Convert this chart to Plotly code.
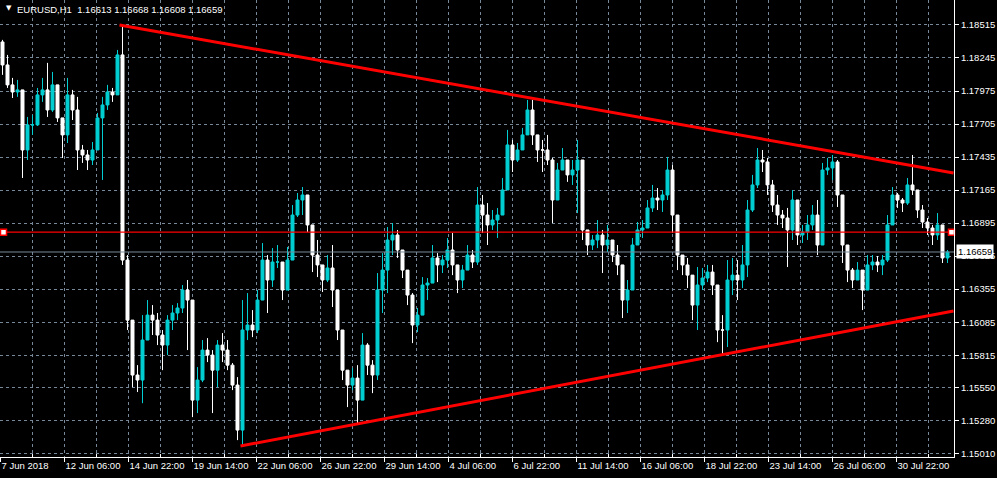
import plotly.graph_objects as go

# ---------------- data (EURUSD H1, one entry per 5 hourly bars) ----------------
first_open = 1.18376
close = [1.18188, 1.18025, 1.17967, 1.17984, 1.17493, 1.17698, 1.17698, 1.17943, 1.17984, 1.17820,
         1.18025, 1.17755, 1.17616, 1.17943, 1.17820, 1.17493, 1.17452, 1.17411, 1.17493, 1.17755,
         1.17861, 1.17967, 1.17943, 1.18270, 1.16593, 1.16102, 1.15653, 1.15612, 1.15939, 1.16143,
         1.16102, 1.15980, 1.15898, 1.16102, 1.16160, 1.16201, 1.16348, 1.16266, 1.15448, 1.15612,
         1.15857, 1.15816, 1.15693, 1.15898, 1.15857, 1.15734, 1.15571, 1.15203, 1.16021, 1.16062,
         1.16021, 1.16266, 1.16593, 1.16430, 1.16577, 1.16577, 1.16348, 1.16593, 1.16961, 1.17084,
         1.17125, 1.16880, 1.16634, 1.16553, 1.16430, 1.16528, 1.16348, 1.16021, 1.15693, 1.15571,
         1.15628, 1.15448, 1.15898, 1.15734, 1.15653, 1.16348, 1.16511, 1.16757, 1.16798, 1.16675,
         1.16511, 1.16307, 1.16062, 1.16143, 1.16389, 1.16405, 1.16610, 1.16553, 1.16593, 1.16675,
         1.16553, 1.16430, 1.16511, 1.16634, 1.16577, 1.17043, 1.16961, 1.16880, 1.16920, 1.16961,
         1.17166, 1.17534, 1.17411, 1.17493, 1.17616, 1.17820, 1.17616, 1.17493, 1.17493, 1.17411,
         1.17084, 1.17329, 1.17411, 1.17289, 1.17329, 1.17411, 1.16839, 1.16716, 1.16757, 1.16798,
         1.16716, 1.16757, 1.16634, 1.16553, 1.16266, 1.16348, 1.16716, 1.16839, 1.16855, 1.17019,
         1.17100, 1.17084, 1.17125, 1.17329, 1.16961, 1.16634, 1.16553, 1.16470, 1.16225, 1.16389,
         1.16446, 1.16495, 1.16389, 1.16021, 1.16021, 1.16430, 1.16470, 1.16430, 1.16553, 1.17002,
         1.17207, 1.17411, 1.17395, 1.17207, 1.17043, 1.16961, 1.16937, 1.16839, 1.17084, 1.16798,
         1.16822, 1.16880, 1.16961, 1.16716, 1.17329, 1.17346, 1.17395, 1.17125, 1.16716, 1.16511,
         1.16430, 1.16511, 1.16348, 1.16553, 1.16577, 1.16553, 1.16593, 1.16880, 1.17125, 1.17084,
         1.17059, 1.17207, 1.17166, 1.17002, 1.16904, 1.16855, 1.16798, 1.16880, 1.16610, 1.16659]
high = [1.18393, 1.18270, 1.18082, 1.18066, 1.17967, 1.17763, 1.17779, 1.18000, 1.18082, 1.18205,
        1.18131, 1.17902, 1.17755, 1.18082, 1.17984, 1.17927, 1.17534, 1.17493, 1.17558, 1.17796,
        1.17927, 1.18025, 1.18000, 1.18311, 1.18516, 1.16634, 1.16102, 1.15734, 1.16143, 1.16266,
        1.16225, 1.16160, 1.16021, 1.16143, 1.16225, 1.16241, 1.16389, 1.16430, 1.16266, 1.15718,
        1.15939, 1.15955, 1.15857, 1.15939, 1.15996, 1.15939, 1.15751, 1.15636, 1.16266, 1.16323,
        1.16184, 1.16348, 1.16732, 1.16634, 1.16691, 1.16716, 1.16577, 1.16700, 1.17043, 1.17141,
        1.17190, 1.17084, 1.16855, 1.16757, 1.16553, 1.16634, 1.16716, 1.16348, 1.15980, 1.15693,
        1.15710, 1.15734, 1.15996, 1.15914, 1.15775, 1.16487, 1.16650, 1.16863, 1.16896, 1.16839,
        1.16675, 1.16511, 1.16323, 1.16201, 1.16454, 1.16446, 1.16716, 1.16650, 1.16634, 1.16773,
        1.16814, 1.16511, 1.16553, 1.16716, 1.16675, 1.17190, 1.17125, 1.17059, 1.17002, 1.17019,
        1.17264, 1.17657, 1.17575, 1.17550, 1.17673, 1.17902, 1.17902, 1.17591, 1.17575, 1.17616,
        1.17428, 1.17387, 1.17509, 1.17395, 1.17411, 1.17575, 1.17329, 1.16822, 1.16798, 1.16920,
        1.16839, 1.16880, 1.16757, 1.16716, 1.16511, 1.16430, 1.16773, 1.16904, 1.16920, 1.17084,
        1.17207, 1.17182, 1.17166, 1.17436, 1.17370, 1.16961, 1.16634, 1.16610, 1.16470, 1.16536,
        1.16528, 1.16553, 1.16553, 1.16389, 1.16143, 1.16593, 1.16610, 1.16593, 1.16716, 1.17084,
        1.17289, 1.17509, 1.17493, 1.17428, 1.17248, 1.17125, 1.17002, 1.17019, 1.17166, 1.17002,
        1.16880, 1.16961, 1.17043, 1.17084, 1.17387, 1.17428, 1.17452, 1.17411, 1.17084, 1.16716,
        1.16528, 1.16577, 1.16511, 1.16634, 1.16634, 1.16626, 1.16634, 1.16961, 1.17190, 1.17141,
        1.17100, 1.17264, 1.17452, 1.17150, 1.17043, 1.16937, 1.16880, 1.16977, 1.16880, 1.16675]
low = [1.18107, 1.18000, 1.17918, 1.17927, 1.17264, 1.17411, 1.17616, 1.17689, 1.17886, 1.17763,
       1.17804, 1.17722, 1.17428, 1.17550, 1.17738, 1.17329, 1.17387, 1.17329, 1.17370, 1.17493,
       1.17248, 1.17820, 1.17886, 1.17984, 1.16553, 1.16021, 1.15554, 1.15514, 1.15423, 1.15939,
       1.15980, 1.15898, 1.15693, 1.15816, 1.16021, 1.16102, 1.16160, 1.15857, 1.15309, 1.15342,
       1.15595, 1.15759, 1.15342, 1.15554, 1.15759, 1.15693, 1.15530, 1.15121, 1.15072, 1.15939,
       1.15963, 1.15996, 1.16307, 1.16160, 1.16373, 1.16528, 1.16266, 1.16348, 1.16757, 1.16945,
       1.16961, 1.16822, 1.16495, 1.16454, 1.16332, 1.16413, 1.16209, 1.15939, 1.15612, 1.15391,
       1.15530, 1.15260, 1.15448, 1.15653, 1.15505, 1.15612, 1.16160, 1.16323, 1.16634, 1.16610,
       1.16446, 1.16225, 1.15914, 1.16004, 1.16184, 1.16266, 1.16413, 1.16413, 1.16487, 1.16528,
       1.16470, 1.16323, 1.16364, 1.16511, 1.16528, 1.16553, 1.16814, 1.16716, 1.16839, 1.16773,
       1.16961, 1.17166, 1.17313, 1.17395, 1.17493, 1.17616, 1.17534, 1.17395, 1.17313, 1.17370,
       1.16896, 1.17084, 1.17329, 1.17232, 1.17207, 1.16977, 1.16757, 1.16634, 1.16675, 1.16691,
       1.16487, 1.16659, 1.16577, 1.16470, 1.16119, 1.16160, 1.16348, 1.16716, 1.16773, 1.16880,
       1.16986, 1.17002, 1.16986, 1.17084, 1.16814, 1.16511, 1.16470, 1.16364, 1.16102, 1.16021,
       1.16348, 1.16413, 1.16307, 1.15922, 1.15816, 1.15882, 1.16307, 1.16266, 1.16364, 1.16454,
       1.16986, 1.17182, 1.17313, 1.17125, 1.16986, 1.16880, 1.16855, 1.16536, 1.16757, 1.16716,
       1.16732, 1.16757, 1.16839, 1.16634, 1.16757, 1.17289, 1.17248, 1.17027, 1.16569, 1.16413,
       1.16364, 1.16430, 1.16184, 1.16348, 1.16511, 1.16495, 1.16470, 1.16577, 1.16880, 1.17019,
       1.16986, 1.17043, 1.17125, 1.16937, 1.16855, 1.16798, 1.16716, 1.16757, 1.16569, 1.16569]
bars_per_candle = 5

time_labels = ["7 Jun 2018", "12 Jun 06:00", "14 Jun 22:00", "19 Jun 14:00", "22 Jun 06:00",
               "26 Jun 22:00", "29 Jun 14:00", "4 Jul 06:00", "6 Jul 22:00", "11 Jul 14:00",
               "16 Jul 06:00", "18 Jul 22:00", "23 Jul 14:00", "26 Jul 06:00", "30 Jul 22:00"]
bars_per_label = 64
price_ticks = [1.18515, 1.18245, 1.17975, 1.17705, 1.17435, 1.17165, 1.16895, 1.16625,
               1.16355, 1.16085, 1.15815, 1.15550, 1.15280, 1.15010]

# drawn objects (bar index, price)
upper_trend_bars = [119, 953]
upper_trend_prices = [1.18515, 1.17305]
lower_trend_bars = [240, 953]
lower_trend_prices = [1.15073, 1.16177]
hline_price = 1.16821
hline_anchor_bars = [3, 951]
bid_price = 1.16659
header_text = "EURUSD,H1  1.16613 1.16668 1.16608 1.16659"

# ---------------- figure ----------------
n = len(close)
opens = [first_open] + close[:-1]
xs = [bars_per_candle * k + bars_per_candle // 2 for k in range(n)]

CYAN = "#00CED1"
GRID = "#778899"
FONT = "Liberation Sans, Arial, sans-serif"

fig = go.Figure()
fig.add_trace(go.Candlestick(
    x=xs, open=opens, high=high, low=low, close=close,
    increasing=dict(line=dict(color=CYAN, width=1), fillcolor=CYAN),
    decreasing=dict(line=dict(color="#FFFFFF", width=1), fillcolor="#FFFFFF"),
    whiskerwidth=0, showlegend=False, hoverinfo="skip"))

# bid line
fig.add_trace(go.Scatter(x=[-1, 960], y=[bid_price, bid_price], mode="lines",
                         line=dict(color=GRID, width=1), showlegend=False, hoverinfo="skip"))
# horizontal level
fig.add_trace(go.Scatter(x=hline_anchor_bars, y=[hline_price] * 2, mode="lines+markers",
                         line=dict(color="#FF0000", width=1.2),
                         marker=dict(symbol="square", size=6, color="#FFFFFF",
                                     line=dict(color="#FF0000", width=1.5)),
                         showlegend=False, hoverinfo="skip", cliponaxis=False))
# trend lines
for bx, py in ((upper_trend_bars, upper_trend_prices), (lower_trend_bars, lower_trend_prices)):
    fig.add_trace(go.Scatter(x=bx, y=py, mode="lines", line=dict(color="#FF0000", width=3),
                             showlegend=False, hoverinfo="skip"))

tickvals = [bars_per_label * i for i in range(len(time_labels))]
minorvals = [bars_per_label * i + bars_per_label // 2 for i in range(len(time_labels))]

fig.update_layout(
    width=997, height=478, autosize=False,
    paper_bgcolor="#000000", plot_bgcolor="#000000",
    margin=dict(l=0, r=43, t=0, b=21),
    boxgap=0.15,
    font=dict(family=FONT, size=10, color="#FFFFFF"),
    xaxis=dict(range=[-0.5, 953.5], tickmode="array", tickvals=tickvals, ticktext=time_labels,
               ticklabelposition="outside right", ticks="outside", ticklen=4, tickcolor="#FFFFFF",
               showgrid=True, gridcolor=GRID, griddash="3px,3px", gridwidth=1,
               showline=True, linecolor="#FFFFFF", linewidth=1, zeroline=False,
               rangeslider=dict(visible=False), fixedrange=True,
               tickfont=dict(family=FONT, size=9.5, color="#FFFFFF"),
               minor=dict(tickmode="array", tickvals=minorvals, ticks="inside", ticklen=3,
                          tickcolor="#FFFFFF", showgrid=True, gridcolor=GRID, griddash="3px,3px")),
    yaxis=dict(range=[1.14983, 1.18719], side="right", tickmode="array", tickvals=price_ticks,
               ticktext=[f"{v:.5f}" for v in price_ticks], ticks="outside", ticklen=4,
               tickcolor="#FFFFFF", showgrid=True, gridcolor=GRID, griddash="3px,3px",
               showline=True, linecolor="#FFFFFF", linewidth=1, zeroline=False, fixedrange=True,
               tickfont=dict(family=FONT, size=9.5, color="#FFFFFF")),
)

fig.add_annotation(xref="paper", yref="y", x=1.0, y=bid_price, xanchor="left", yanchor="middle",
                   xshift=2, text=f"{bid_price:.5f}", showarrow=False, bgcolor="#FFFFFF",
                   font=dict(family=FONT, size=9.5, color="#000000"), borderpad=1)
fig.add_annotation(xref="paper", yref="paper", x=0, y=1, xanchor="left", yanchor="top",
                   xshift=4, yshift=-2, text="\u25bc", showarrow=False,
                   font=dict(family="DejaVu Sans", size=7, color="#FFFFFF"))
fig.add_annotation(xref="paper", yref="paper", x=0, y=1, xanchor="left", yanchor="top",
                   xshift=15, yshift=-2, text=header_text, showarrow=False,
                   font=dict(family=FONT, size=9.5, color="#FFFFFF"))

fig.write_html("out.html", config={"displayModeBar": False},
               post_script="document.body.style.margin='0px';document.body.style.background='#000';")
